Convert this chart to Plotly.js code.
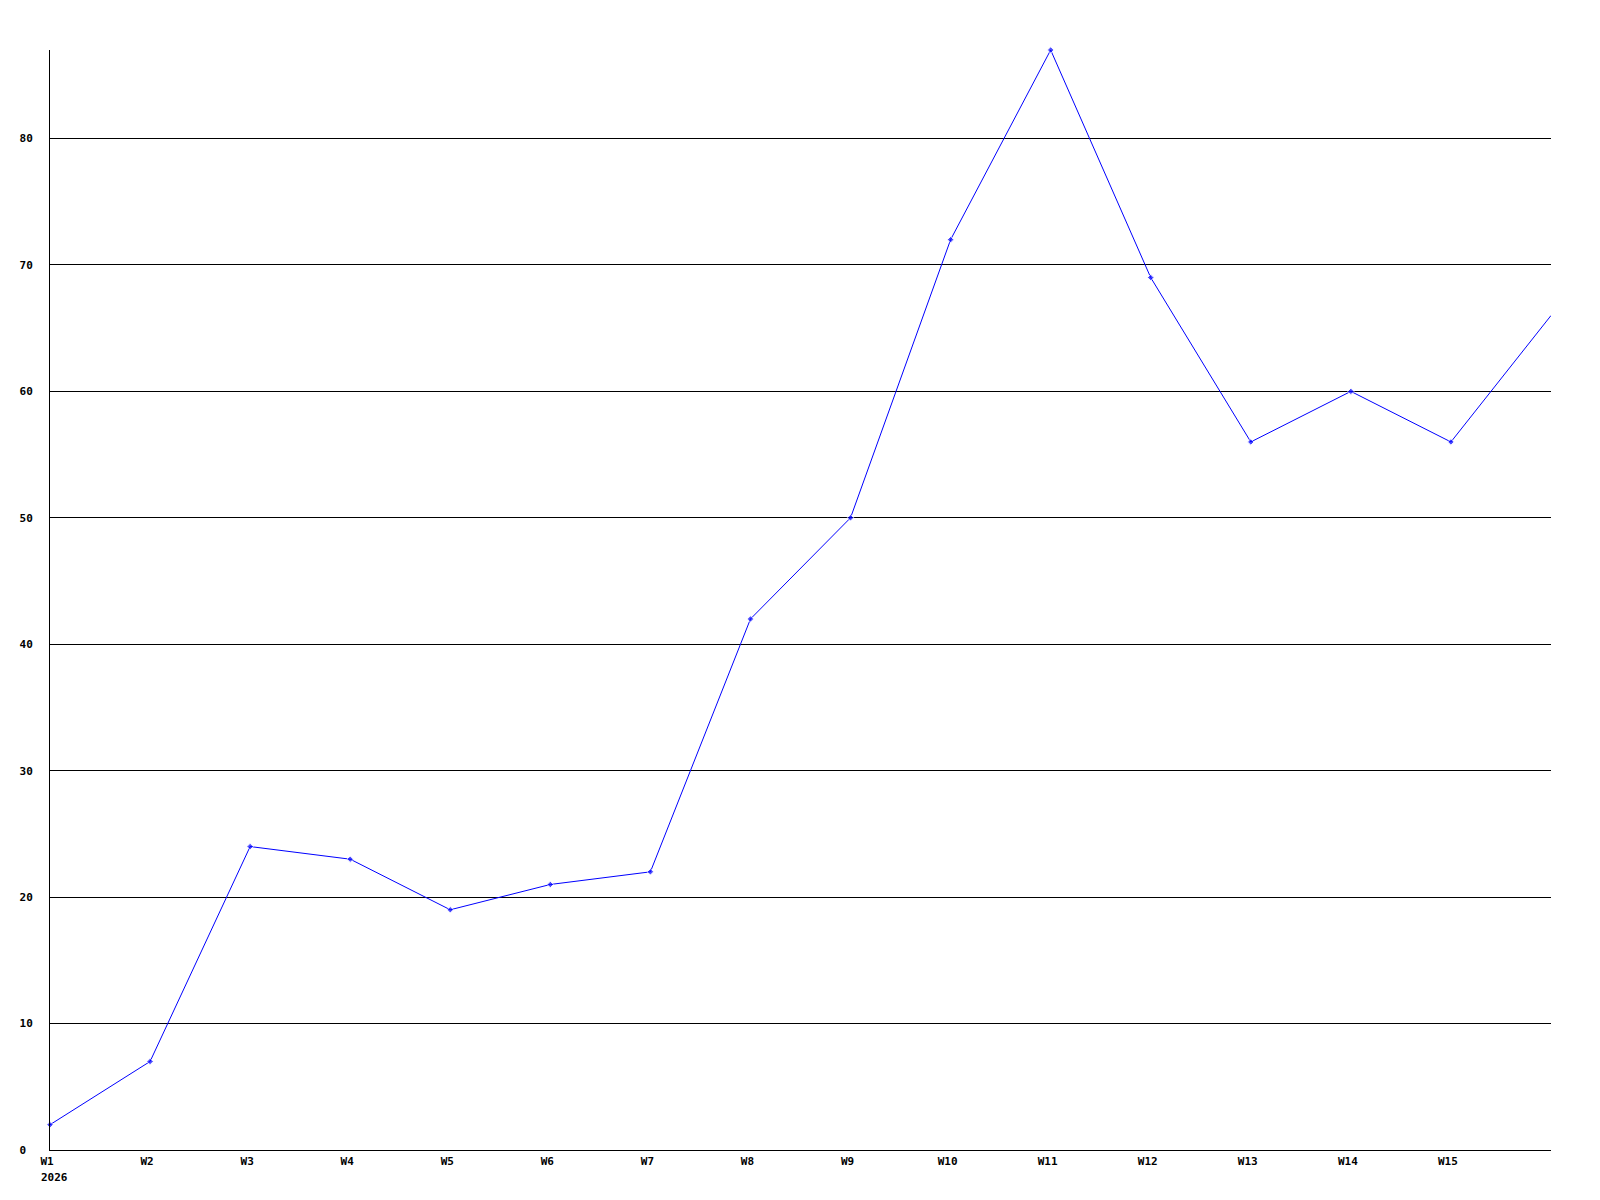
<!DOCTYPE html>
<html>
<head>
<meta charset="utf-8">
<script src="https://cdn.plot.ly/plotly-3.0.1.min.js"></script>
<style>html,body{margin:0;padding:0;background:#fff;}#chart{width:1600px;height:1200px;}</style>
</head>
<body>
<div id="chart"></div>
<script>
const weeks = ["W1","W2","W3","W4","W5","W6","W7","W8","W9","W10","W11","W12","W13","W14","W15","W16"];
const values = [2, 7, 24, 23, 19, 21, 22, 42, 50, 72, 87, 69, 56, 60, 56, 66];
const xTickLabels = ["W1","W2","W3","W4","W5","W6","W7","W8","W9","W10","W11","W12","W13","W14","W15"];
const yTickValues = [0, 10, 20, 30, 40, 50, 60, 70, 80];
const yearLabel = "2026";

const xs = weeks.map((w, i) => i);
const sizes = values.map((v, i) => i === values.length - 1 ? 0 : 5);
const font = {family: "DejaVu Sans Mono", size: 11, color: "#000", weight: "bold"};

const trace = {
  x: xs, y: values, type: "scatter", mode: "lines+markers",
  line: {color: "#0000ff", width: 1},
  marker: {color: "#0000ff", size: sizes, symbol: "diamond"},
  text: weeks, hoverinfo: "text+y", cliponaxis: false
};

const layout = {
  width: 1600, height: 1200,
  margin: {l: 50, r: 49, t: 50, b: 50},
  paper_bgcolor: "#fff", plot_bgcolor: "#fff",
  showlegend: false,
  font: font,
  xaxis: {
    range: [0, 15], tickvals: xTickLabels.map((t, i) => i), ticktext: xTickLabels,
    showgrid: false, zeroline: false, showline: true, linecolor: "#000", linewidth: 1,
    ticks: "", ticklabelshift: -3, ticklabelstandoff: 1, tickfont: font
  },
  yaxis: {
    range: [0, 87], tickvals: yTickValues,
    ticktext: yTickValues.map(v => v < 10 ? v + "\u00a0" : String(v)),
    showgrid: true, gridcolor: "#000", gridwidth: 1, zeroline: false,
    showline: true, linecolor: "#000", linewidth: 1, ticks: "", tickfont: font,
    ticklabelstandoff: 14
  },
  annotations: [{
    text: yearLabel, xref: "x", x: 0, yref: "paper", y: 0,
    xanchor: "left", yanchor: "top", xshift: -11, yshift: -19,
    showarrow: false, font: font
  }]
};

Plotly.newPlot("chart", [trace], layout, {displayModeBar: false, staticPlot: true});
</script>
</body>
</html>
